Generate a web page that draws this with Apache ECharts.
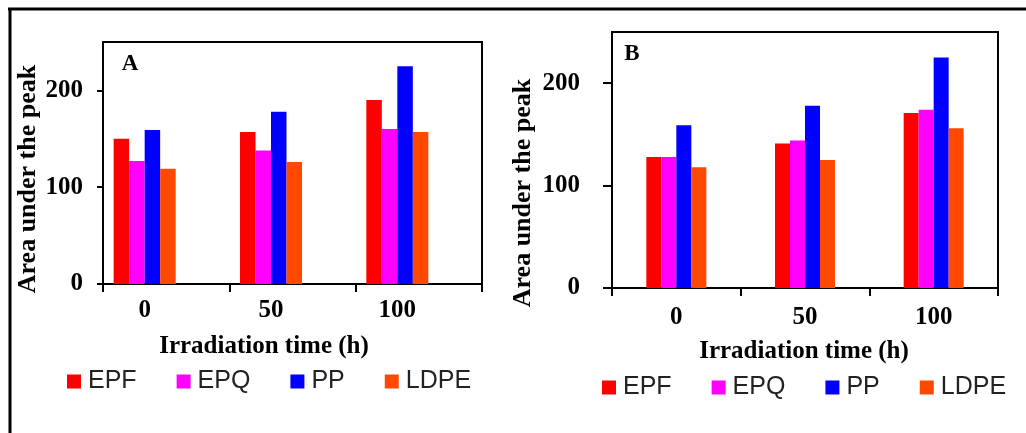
<!DOCTYPE html>
<html><head><meta charset="utf-8">
<script src="https://cdn.jsdelivr.net/npm/echarts@6/dist/echarts.min.js"></script>
<style>html,body{margin:0;padding:0;background:#fff}#c{width:1026px;height:433px}</style>
</head><body><div id="c"></div>
<script>
// ---- data ----
const categories = ['0', '50', '100'];
const seriesNames = ['EPF', 'EPQ', 'PP', 'LDPE'];
const seriesColors = ['#FF0000', '#FF00FF', '#0000FF', '#FF4800'];
const panelA_EPF = [150, 157, 190];
const panelA_EPQ = [127, 138, 160];
const panelA_PP = [159, 178, 225];
const panelA_LDPE = [119, 126, 157];
const panelB_EPF = [128, 141, 171];
const panelB_EPQ = [128, 144, 174];
const panelB_PP = [159, 178, 225];
const panelB_LDPE = [118, 125, 156];
const yTickValues = [0, 100, 200];
const yMax = 250;
const xTitle = 'Irradiation time (h)';
const yTitle = 'Area under the peak';
const panelLabels = ['A', 'B'];

// ---- chart ----
const serif = '"Liberation Serif", "Times New Roman", serif';
const sans = '"Liberation Sans", Arial, sans-serif';
const panelA = [panelA_EPF, panelA_EPQ, panelA_PP, panelA_LDPE];
const panelB = [panelB_EPF, panelB_EPQ, panelB_PP, panelB_LDPE];

const tickLabelStyle = { fontFamily: serif, fontWeight: 'bold', fontSize: 25, color: '#000' };
const blackLine = { color: '#000', width: 2 };

function frameX(grid, tickLen, showLabel, margin) {
  return {
    type: 'category', gridIndex: grid, data: categories, boundaryGap: true,
    axisLine: { show: true, lineStyle: blackLine },
    axisTick: { show: true, length: tickLen, inside: false, alignWithLabel: false, lineStyle: blackLine },
    axisLabel: Object.assign({ show: showLabel, margin: margin }, tickLabelStyle),
    splitLine: { show: false }
  };
}
function frameY(grid, tickLen, margin) {
  return {
    type: 'value', gridIndex: grid, min: 0, max: yMax, interval: 100,
    axisLine: { show: true, lineStyle: blackLine },
    axisTick: { show: true, length: tickLen, customValues: yTickValues, lineStyle: blackLine },
    axisLabel: Object.assign({ margin: margin, customValues: yTickValues }, tickLabelStyle),
    splitLine: { show: false }
  };
}

const series = [];
panelA.forEach((vals, i) => series.push({
  name: seriesNames[i], type: 'bar', xAxisIndex: 1, yAxisIndex: 1, data: vals,
  barWidth: 15.5, barGap: '0%', itemStyle: { color: seriesColors[i] }, animation: false
}));
panelB.forEach((vals, i) => series.push({
  name: seriesNames[i], type: 'bar', xAxisIndex: 2, yAxisIndex: 2, data: vals,
  barWidth: 15, barGap: '0%', itemStyle: { color: seriesColors[i] }, animation: false
}));

const legendCommon = {
  data: seriesNames, orient: 'horizontal', icon: 'rect', itemWidth: 14, itemHeight: 14, itemGap: 40,
  padding: 0,
  textStyle: { fontFamily: sans, fontSize: 25, color: '#222', padding: [0, 0, 0, 2] },
  selectedMode: false
};

const option = {
  animation: false,
  backgroundColor: '#fff',
  grid: [
    { left: 103, top: 42, width: 379, height: 242, show: true, borderColor: '#000', borderWidth: 2, backgroundColor: 'transparent' },
    { left: 81.5, top: 42, width: 379, height: 242 },
    { left: 612, top: 32, width: 386, height: 256, show: true, borderColor: '#000', borderWidth: 2, backgroundColor: 'transparent' }
  ],
  xAxis: [
    frameX(0, 8, false, 14),
    { type: 'category', gridIndex: 1, data: categories, axisLine: { show: false }, axisTick: { show: false },
      axisLabel: Object.assign({ margin: 14 }, tickLabelStyle), splitLine: { show: false } },
    frameX(2, 8, true, 17)
  ],
  yAxis: [
    frameY(0, 6, 20),
    { type: 'value', gridIndex: 1, min: 0, max: yMax, show: false },
    frameY(2, 9, 32)
  ],
  legend: [
    Object.assign({ left: 67, top: 369 }, legendCommon),
    Object.assign({ left: 602, top: 375 }, legendCommon)
  ],
  series: series,
  graphic: [
    { type: 'line', shape: { x1: 8, y1: 9, x2: 1026, y2: 9 }, style: { stroke: '#000', lineWidth: 3 } },
    { type: 'line', shape: { x1: 10, y1: 8, x2: 10, y2: 433 }, style: { stroke: '#000', lineWidth: 3 } },
    { type: 'text', x: 28, y: 179, rotation: Math.PI / 2,
      style: { text: yTitle, font: 'bold 26px ' + serif, fill: '#000', align: 'center', verticalAlign: 'middle' } },
    { type: 'text', x: 523, y: 193, rotation: Math.PI / 2,
      style: { text: yTitle, font: 'bold 26px ' + serif, fill: '#000', align: 'center', verticalAlign: 'middle' } },
    { type: 'text', x: 264, y: 347,
      style: { text: xTitle, font: 'bold 25px ' + serif, fill: '#000', align: 'center', verticalAlign: 'middle' } },
    { type: 'text', x: 804, y: 352,
      style: { text: xTitle, font: 'bold 25px ' + serif, fill: '#000', align: 'center', verticalAlign: 'middle' } },
    { type: 'text', x: 130, y: 64,
      style: { text: panelLabels[0], font: 'bold 23px ' + serif, fill: '#000', align: 'center', verticalAlign: 'middle' } },
    { type: 'text', x: 632, y: 54,
      style: { text: panelLabels[1], font: 'bold 23px ' + serif, fill: '#000', align: 'center', verticalAlign: 'middle' } }
  ]
};

const chart = echarts.init(document.getElementById('c'), null, { renderer: 'canvas' });
chart.setOption(option);
</script>
</body></html>
